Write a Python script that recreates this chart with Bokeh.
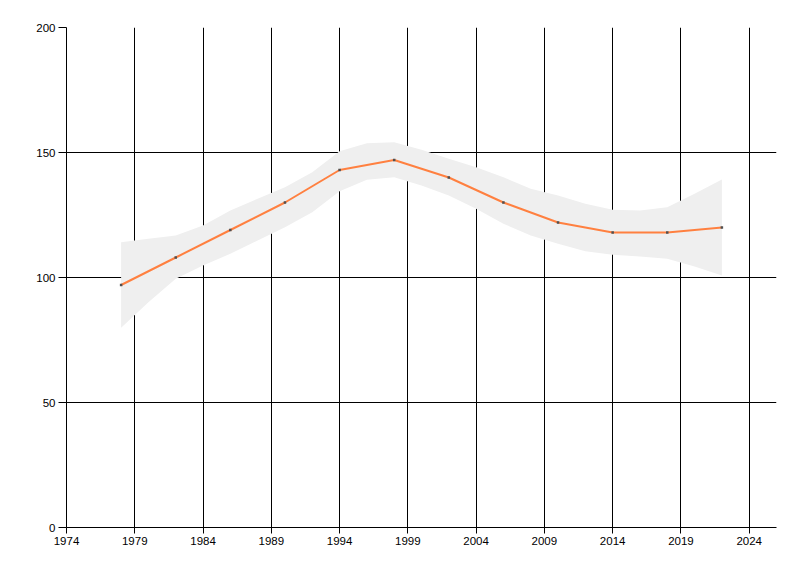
from bokeh.plotting import figure
from bokeh.models import FixedTicker, Range1d
from bokeh.embed import file_html
from bokeh.resources import INLINE

years = [1978, 1982, 1986, 1990, 1994, 1998, 2002, 2006, 2010, 2014, 2018, 2022]
values = [97, 108, 119, 130, 143, 147, 140, 130, 122, 118, 118, 120]

band_years = [1978, 1980, 1982, 1984, 1986, 1988, 1990, 1992, 1994, 1996, 1998, 2000,
              2002, 2004, 2006, 2008, 2010, 2012, 2014, 2016, 2018, 2020, 2022]
band_upper = [114.1, 115.5, 116.8, 120.8, 126.8, 131.5, 136.1, 142.1, 150.5, 153.7, 154.1, 151.1,
              147.5, 144.1, 140.1, 135.5, 132.8, 129.5, 127.1, 126.8, 128.1, 133.5, 139.2]
band_lower = [79.9, 90.1, 99.5, 104.8, 109.5, 114.8, 120.1, 126.1, 134.5, 139.1, 140.1, 136.8,
              132.8, 127.5, 121.5, 116.8, 113.5, 110.5, 109.1, 108.4, 107.5, 104.4, 100.8]

x_ticks = [1974, 1979, 1984, 1989, 1994, 1999, 2004, 2009, 2014, 2019, 2024]
y_ticks = [0, 50, 100, 150, 200]

p = figure(frame_width=710, frame_height=500, output_backend="svg", toolbar_location=None,
           x_range=Range1d(1974, 2026), y_range=Range1d(0, 200),
           min_border_left=66, min_border_right=16, min_border_top=27, min_border_bottom=41)
p.outline_line_color = None
p.background_fill_color = "white"
p.border_fill_color = "white"

p.varea(x=band_years, y1=band_lower, y2=band_upper, fill_color="#EFEFEF", fill_alpha=1.0)
p.line(years, values, line_color="#FF8040", line_width=2)
p.scatter(years, values, marker="square", size=2.5, fill_color="#505050", line_color=None)

for ax in (p.xaxis[0], p.yaxis[0]):
    ax.axis_line_color = "black"
    ax.major_tick_line_color = "black"
    ax.minor_tick_line_color = None
    ax.major_tick_in = 0
    ax.major_label_text_font = "Liberation Sans"
    ax.major_label_text_font_size = "11.5px"
    ax.major_label_text_color = "black"

p.xaxis[0].ticker = FixedTicker(ticks=x_ticks)
p.yaxis[0].ticker = FixedTicker(ticks=y_ticks)
p.xaxis[0].major_tick_out = 6
p.yaxis[0].major_tick_out = 8
p.xaxis[0].major_label_standoff = 3
p.yaxis[0].major_label_standoff = 3

p.xgrid[0].ticker = FixedTicker(ticks=x_ticks)
p.ygrid[0].ticker = FixedTicker(ticks=y_ticks)
p.xgrid.grid_line_color = "black"
p.ygrid.grid_line_color = "black"
p.xgrid.grid_line_alpha = 1.0
p.ygrid.grid_line_alpha = 1.0

open("out.html", "w").write(file_html(p, INLINE))
